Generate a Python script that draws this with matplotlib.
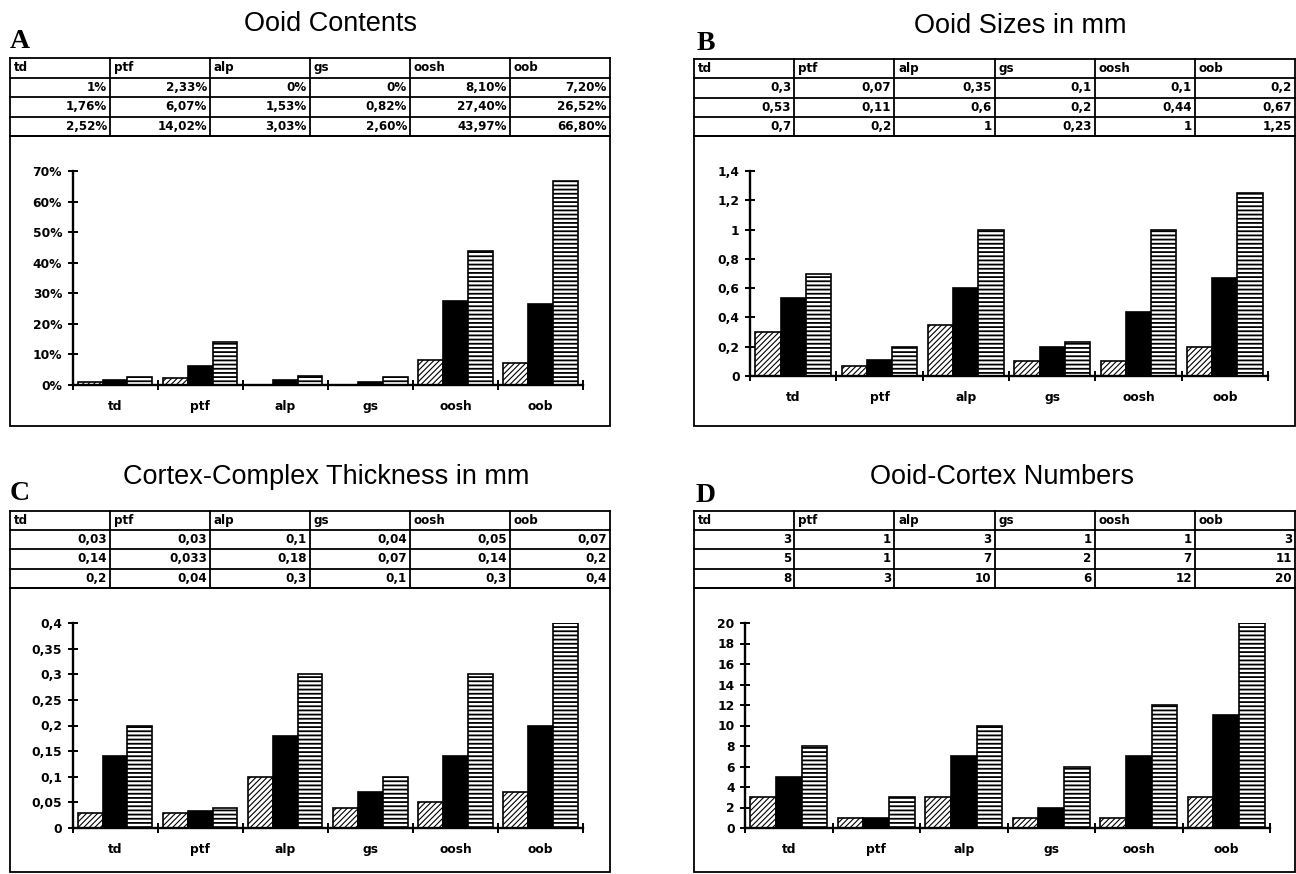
import matplotlib
matplotlib.use('Agg')
import matplotlib.pyplot as plt
from matplotlib.patches import Rectangle
from matplotlib.ticker import FixedLocator, FuncFormatter
import numpy as np

W, H = 1296, 874
categories = ['td', 'ptf', 'alp', 'gs', 'oosh', 'oob']

# Panel A: Ooid contents (%)
contents_min = [1, 2.33, 0, 0, 8.10, 7.20]
contents_mid = [1.76, 6.07, 1.53, 0.82, 27.40, 26.52]
contents_max = [2.52, 14.02, 3.03, 2.60, 43.97, 66.80]

# Panel B: Ooid sizes in mm
sizes_min = [0.3, 0.07, 0.35, 0.1, 0.1, 0.2]
sizes_mid = [0.53, 0.11, 0.6, 0.2, 0.44, 0.67]
sizes_max = [0.7, 0.2, 1, 0.23, 1, 1.25]

# Panel C: Cortex-complex thickness in mm
cortex_min = [0.03, 0.03, 0.1, 0.04, 0.05, 0.07]
cortex_mid = [0.14, 0.033, 0.18, 0.07, 0.14, 0.2]
cortex_max = [0.2, 0.04, 0.3, 0.1, 0.3, 0.4]

# Panel D: Ooid-cortex numbers
numbers_min = [3, 1, 3, 1, 1, 3]
numbers_mid = [5, 1, 7, 2, 7, 11]
numbers_max = [8, 3, 10, 6, 12, 20]

TICK_FONT = dict(family='DejaVu Sans', weight='bold', size=8.8)
TABLE_FONT = dict(family='DejaVu Sans', weight='bold', size=8.6)

fig = plt.figure(figsize=(W / 100, H / 100), dpi=100)
bg = fig.add_axes([0, 0, 1, 1])
bg.set_xlim(0, W)
bg.set_ylim(H, 0)
bg.axis('off')


def fmt_pct(v):
    return (f"{v:g}%" if float(v).is_integer() else f"{v:.2f}%").replace('.', ',')


def fmt_num(v):
    return f"{round(v, 4):g}".replace('.', ',')


def panel(letter, title, series, ymax, ystep, fmt, tick_fmt,
          left, right, title_xy, letter_xy, table_top, row_h,
          box_bottom, ax_x0, ax_x1, ax_top, ax_bottom):
    # title & letter
    bg.text(title_xy[0], title_xy[1], title, ha='center', va='center',
            family='Liberation Sans', fontsize=19.5)
    bg.text(letter_xy[0], letter_xy[1], letter, ha='left', va='center',
            family='Liberation Serif', weight='bold', fontsize=20)
    # table
    ncol = len(categories)
    cw = (right - left) / ncol
    nrow = 1 + len(series)
    tb = table_top + nrow * row_h
    for r in range(nrow + 1):
        bg.plot([left, right], [table_top + r * row_h] * 2, color='black', lw=1.3)
    for c in range(ncol + 1):
        bg.plot([left + c * cw] * 2, [table_top, tb], color='black', lw=1.3)
    for c, cat in enumerate(categories):
        bg.text(left + c * cw + 4, table_top + row_h / 2, cat, ha='left',
                va='center', **TABLE_FONT)
        for r, s in enumerate(series):
            bg.text(left + (c + 1) * cw - 3, table_top + (r + 1.5) * row_h,
                    fmt(s[c]), ha='right', va='center', **TABLE_FONT)
    # chart box
    bg.add_patch(Rectangle((left, tb), right - left, box_bottom - tb,
                           fill=False, lw=1.3, ec='black'))
    # chart axes
    ax = fig.add_axes([ax_x0 / W, 1 - ax_bottom / H, (ax_x1 - ax_x0) / W,
                       (ax_bottom - ax_top) / H])
    ax.set_facecolor('none')
    x = np.arange(ncol) + 0.5
    w = 0.292
    with plt.rc_context({'hatch.linewidth': 0.8}):
        ax.bar(x - w, series[0], w, color='white', edgecolor='black',
               hatch='//////', lw=1.2, zorder=3)
    ax.bar(x, series[1], w, color='black', edgecolor='black', lw=1.2, zorder=3)
    with plt.rc_context({'hatch.linewidth': 1.3}):
        ax.bar(x + w, series[2], w, color='white', edgecolor='black',
               hatch='----', lw=1.2, zorder=3)
    ax.set_xlim(0, ncol)
    ax.set_ylim(0, ymax)
    for sp in ['top', 'right']:
        ax.spines[sp].set_visible(False)
    for sp in ['left', 'bottom']:
        ax.spines[sp].set_linewidth(1.7)
        ax.spines[sp].set_zorder(4)
    ax.xaxis.set_major_locator(FixedLocator(np.arange(ncol + 1)))
    ax.xaxis.set_minor_locator(FixedLocator(x))
    ax.set_xticklabels([])
    ax.set_xticklabels(categories, minor=True, **TICK_FONT)
    ax.tick_params(axis='x', which='major', direction='inout', length=7, width=1.4)
    ax.tick_params(axis='x', which='minor', length=0, pad=11)
    ax.set_yticks(np.arange(0, ymax + ystep / 2, ystep))
    ax.yaxis.set_major_formatter(FuncFormatter(lambda v, p: tick_fmt(v)))
    for lab in ax.get_yticklabels():
        lab.set(**TICK_FONT)
    ax.tick_params(axis='y', direction='inout', length=7, width=1.4, pad=4)
    return ax


panel('A', 'Ooid Contents', [contents_min, contents_mid, contents_max], 70, 10,
      fmt_pct, lambda v: f"{round(v):d}%",
      left=10, right=610, title_xy=(330, 24), letter_xy=(10, 42),
      table_top=58, row_h=19.5, box_bottom=426,
      ax_x0=72.5, ax_x1=583, ax_top=171, ax_bottom=385)

panel('B', 'Ooid Sizes in mm', [sizes_min, sizes_mid, sizes_max], 1.4, 0.2,
      fmt_num, fmt_num,
      left=694, right=1295, title_xy=(1020, 26), letter_xy=(697, 43),
      table_top=59, row_h=19.3, box_bottom=426,
      ax_x0=750, ax_x1=1268, ax_top=171, ax_bottom=376)

panel('C', 'Cortex-Complex Thickness in mm', [cortex_min, cortex_mid, cortex_max],
      0.4, 0.05, fmt_num, fmt_num,
      left=10, right=610, title_xy=(326, 477), letter_xy=(10, 494),
      table_top=511, row_h=19.2, box_bottom=872,
      ax_x0=72.5, ax_x1=583, ax_top=623, ax_bottom=828)

panel('D', 'Ooid-Cortex Numbers', [numbers_min, numbers_mid, numbers_max],
      20, 2, fmt_num, fmt_num,
      left=694, right=1295, title_xy=(1002, 477), letter_xy=(696, 495),
      table_top=511, row_h=19.2, box_bottom=872,
      ax_x0=745, ax_x1=1270, ax_top=623, ax_bottom=828)

fig.savefig('out.png', dpi=100, facecolor='white')
